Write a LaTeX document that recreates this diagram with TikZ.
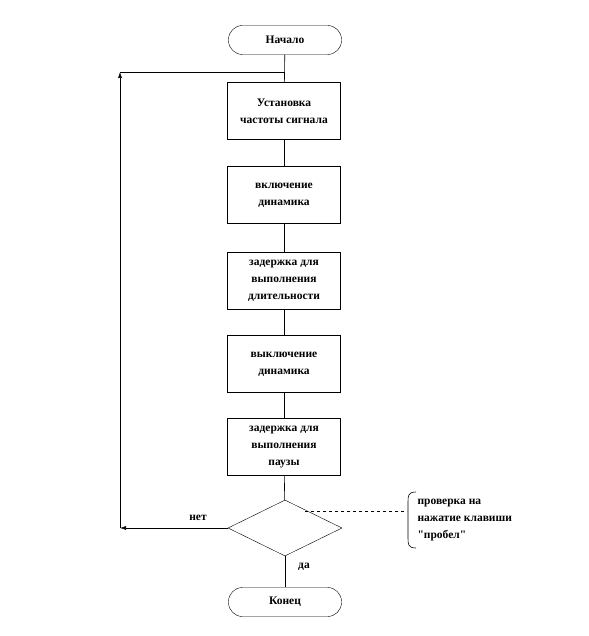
\documentclass[tikz,border=0pt]{standalone}
\usepackage{fontspec}
\setmainfont{Liberation Serif}
\usetikzlibrary{shapes.geometric,arrows.meta}
\begin{document}
\begin{tikzpicture}[x=1pt,y=-1pt,
  txt/.style={font=\bfseries\fontsize{11.5}{17}\selectfont,align=center},
  term/.style={txt,draw,rounded corners=14pt,minimum width=113pt,minimum height=29pt,inner sep=0pt},
  proc/.style={txt,draw,minimum width=113pt,minimum height=57pt,inner sep=0pt},
  dec/.style={draw,diamond,minimum width=114pt,minimum height=56pt,inner sep=0pt,aspect=2},
  conn/.style={line width=0.6pt},
  arr/.style={conn,-{Latex[length=6pt,width=4pt]}},
  lbl/.style={font=\bfseries\fontsize{11.5}{17}\selectfont}]
\useasboundingbox (0,0) rectangle (588,636);
\node[term] (start) at (285,40) {Начало};
\node[proc] (b1) at (284,111) {Установка\\частоты сигнала};
\node[proc] (b2) at (284,195) {включение\\динамика};
\node[proc] (b3) at (284,281) {задержка для\\выполнения\\длительности};
\node[proc] (b4) at (284,364) {выключение\\динамика};
\node[proc] (b5) at (284,447) {задержка для\\выполнения\\паузы};
\node[dec, minimum width=114pt, minimum height=56pt] (d) at (285,528) {};
\node[term] (end) at (285,602) {Конец};
\coordinate (lb) at (120,528);
\coordinate (lt) at (120,72);
\coordinate (jt) at (285,72);
\draw[conn] (start) -- (b1);
\draw[conn] (b1) -- (b2);
\draw[conn] (b2) -- (b3);
\draw[conn] (b3) -- (b4);
\draw[conn] (b4) -- (b5);
\draw[conn] (b5) -- (d);
\draw[conn] (d) -- (end);
\draw[arr] (d.west) -- (lb);
\draw[arr] (lb) -- (lt);
\draw[conn] (lt) -- (jt);
\node[lbl] (no) at (198,518) {нет};
\node[lbl] (yes) at (304,567) {да};
\coordinate (da) at (305,511);
\coordinate (db) at (407,511);
\draw[conn,dashed] (da) -- (db);
\draw[conn] (416,492) .. controls (408,492) and (408,496) .. (408,502) -- (408,538) .. controls (408,544) and (408,548) .. (416,548);
\node[txt,align=left,anchor=west] (note) at (414,520) {проверка на\\нажатие клавиши\\\textquotedbl пробел\textquotedbl};
\end{tikzpicture}
\end{document}
